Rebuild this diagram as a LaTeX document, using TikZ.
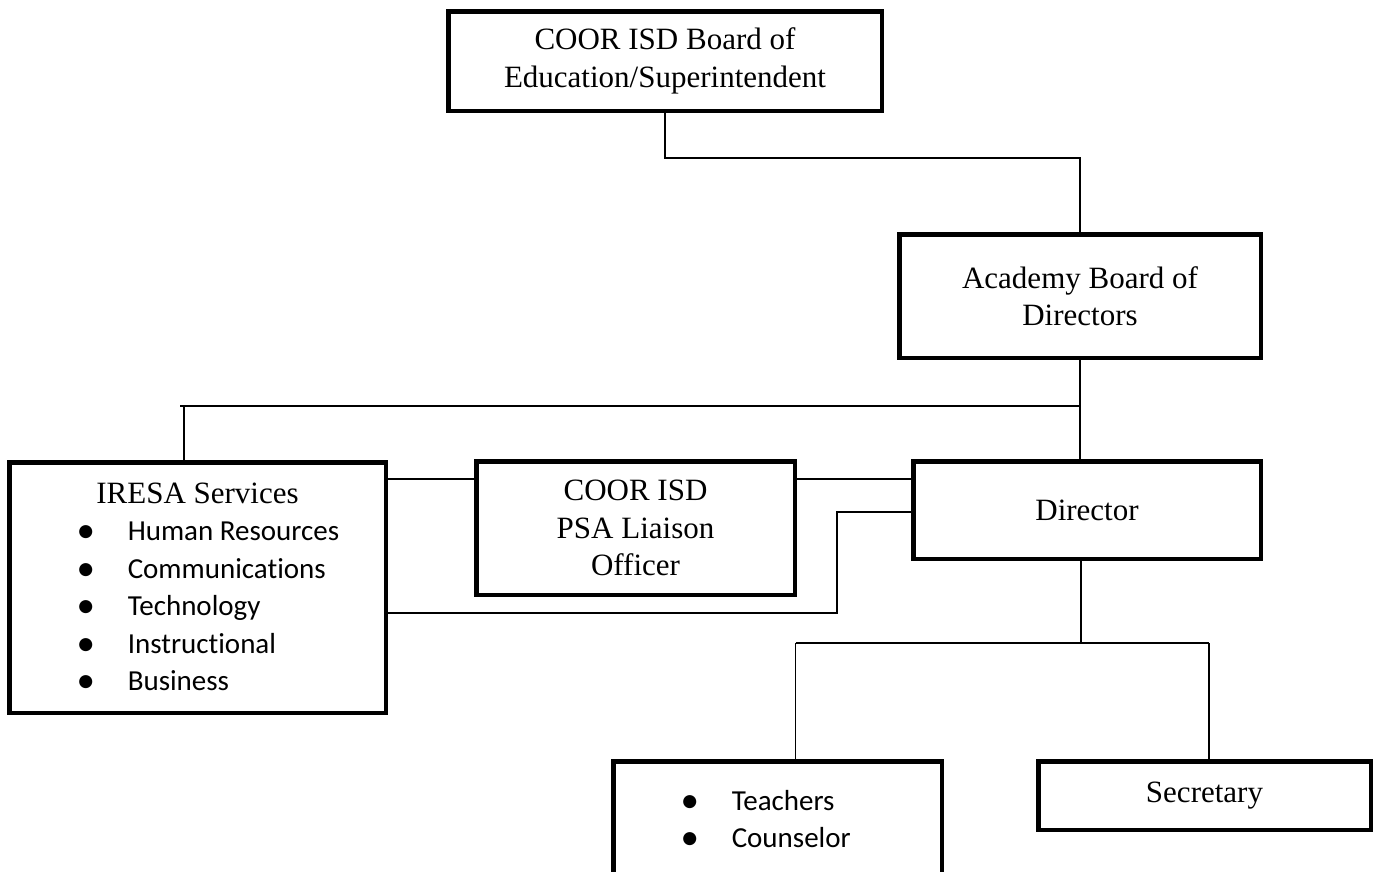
\documentclass[tikz,border=0pt]{standalone}
\usepackage{fontspec}
\setmainfont{Liberation Serif}
\newfontfamily\calfont[Ligatures=NoCommon]{Carlito}
\newcommand\bul{\makebox[0pt]{\fontsize{37}{37}\selectfont\raisebox{-2pt}{•}}}
\newcommand\bitem[1]{\hspace*{76.5pt}\bul\hspace*{42pt}#1\par}
\begin{document}
\begin{tikzpicture}[x=1pt,y=-1pt,
  box/.style={draw, line width=4.5pt, inner sep=0pt, align=center,
    font=\fontsize{31}{37.5}\selectfont},
  conn/.style={line width=1.3pt}]
\useasboundingbox (0,0) rectangle (1375,871);
\clip (0,0) rectangle (1375,871);

\node[box, minimum width=433.5, minimum height=99.5] (top) at (665,61)
  {COOR ISD Board of\\Education/Superintendent};
\node[box, minimum width=361.5, minimum height=123.5] (ab) at (1080,296)
  {Academy Board of\\Directors};
\node[box, minimum width=376.5, minimum height=250.5, text width=376.5, align=flush left] (iresa) at (197.5,587.5)
  {\parindent=0pt\spaceskip=0pt\xspaceskip=0pt{\centering IRESA Services\par}%
   {\calfont\fontsize{29}{37.5}\selectfont
   \bitem{Human Resources}\bitem{Communications}\bitem{Technology}\bitem{Instructional}\bitem{Business}}};
\node[box, minimum width=318.5, minimum height=133.5] (psa) at (635.5,528)
  {COOR ISD\\PSA Liaison\\Officer};
\node[box, minimum width=347.5, minimum height=97.5] (dir) at (1087,510)
  {Director};
\node[box, minimum width=328.5, minimum height=117.5, text width=328.5, align=flush left] (teach) at (777.5,820)
  {\parindent=0pt\spaceskip=0pt\xspaceskip=0pt{\calfont\fontsize{29}{37.5}\selectfont
   \bitem{Teachers}\bitem{Counselor}}};
\node[box, minimum width=332.5, minimum height=68.5] (sec) at (1204.5,795.5)
  {Secretary};

\coordinate (k1) at (1080,158);
\coordinate (k2) at (1080,406);
\coordinate (k3) at (180,406);
\coordinate (k4) at (184,406);
\coordinate (k5) at (0,479);
\coordinate (k6) at (837,512);
\coordinate (k7) at (837,613);
\coordinate (k8) at (1081,643);
\coordinate (k9) at (795.5,643);
\coordinate (k10) at (1209,643);

\draw[conn] (top.south) |- (k1) -- (ab.north);
\draw[conn] (ab.south) -- (ab.south |- dir.north);
\draw[conn] (k3) -- (k2);
\draw[conn] (k4) -- (k4 |- iresa.north);
\draw[conn] (iresa.east |- k5) -- (psa.west |- k5);
\draw[conn] (psa.east |- k5) -- (dir.west |- k5);
\draw[conn] (dir.west |- k6) -- (k6) -- (k7) -- (iresa.east |- k7);
\draw[conn] (dir.south -| k8) -- (k8);
\draw[conn] (k9) -- (k10);
\draw[conn] (k9) -- (k9 |- teach.north);
\draw[conn] (k10) -- (k10 |- sec.north);
\end{tikzpicture}
\end{document}
